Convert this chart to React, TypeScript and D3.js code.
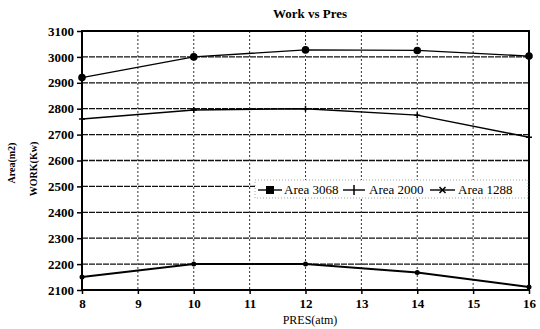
import React, { useRef, useEffect } from "react";
import * as d3 from "d3";

const pres = [8, 10, 12, 14, 16];
const area3068 = [2920, 3000, 3027, 3025, 3003];
const area2000 = [2760, 2795, 2800, 2775, 2690];
const area1288 = [2150, 2200, 2200, 2168, 2112];
const xTicks = [8, 9, 10, 11, 12, 13, 14, 15, 16];
const yTicks = [2100, 2200, 2300, 2400, 2500, 2600, 2700, 2800, 2900, 3000, 3100];
const seriesNames = ["Area 3068", "Area 2000", "Area 1288"];

const W = 540;
const H = 329;
const margin = { top: 31, right: 11, bottom: 39, left: 82 };
const font = "Liberation Serif";

export default function App() {
  const ref = useRef<SVGSVGElement>(null);

  useEffect(() => {
    const svg = d3.select(ref.current);
    svg.selectAll("*").remove();

    const x = d3.scaleLinear().domain([8, 16]).range([margin.left, W - margin.right]);
    const y = d3.scaleLinear().domain([2100, 3100]).range([H - margin.bottom, margin.top]);

    svg.append("rect").attr("width", W).attr("height", H).attr("fill", "#fff");

    // grid
    svg
      .append("g")
      .selectAll("line")
      .data(xTicks.slice(1, -1))
      .join("line")
      .attr("x1", (d) => x(d))
      .attr("x2", (d) => x(d))
      .attr("y1", y(3100))
      .attr("y2", y(2100))
      .attr("stroke", "#333")
      .attr("stroke-width", 1)
      .attr("stroke-dasharray", "2,2");

    svg
      .append("g")
      .selectAll("line")
      .data(yTicks.slice(1, -1))
      .join("line")
      .attr("x1", x(8))
      .attr("x2", x(16))
      .attr("y1", (d) => y(d))
      .attr("y2", (d) => y(d))
      .attr("stroke", "#111")
      .attr("stroke-width", 1.3)
      .attr("stroke-dasharray", "6,1");

    // frame
    svg
      .append("rect")
      .attr("x", x(8))
      .attr("y", y(3100))
      .attr("width", x(16) - x(8))
      .attr("height", y(2100) - y(3100))
      .attr("fill", "none")
      .attr("stroke", "#000")
      .attr("stroke-width", 2);

    // axes
    const yAxis = d3
      .axisLeft(y)
      .tickValues(yTicks)
      .tickSize(5)
      .tickFormat((d) => String(d));
    const gy = svg.append("g").attr("transform", `translate(${x(8)},0)`).call(yAxis);
    gy.attr("font-family", null).attr("font-size", null);
    gy.select(".domain").remove();
    gy.selectAll("line").attr("stroke", "#000").attr("stroke-width", 1.5);
    gy.selectAll("text")
      .style("font-family", font)
      .attr("font-weight", "bold")
      .attr("font-size", 13)
      .attr("fill", "#000")
      .attr("x", -8);

    const xAxis = d3
      .axisBottom(x)
      .tickValues(xTicks)
      .tickSize(4)
      .tickFormat((d) => String(d));
    const gx = svg.append("g").attr("transform", `translate(0,${y(2100)})`).call(xAxis);
    gx.attr("font-family", null).attr("font-size", null);
    gx.select(".domain").remove();
    gx.selectAll("line").attr("stroke", "#000").attr("stroke-width", 1.5);
    gx.selectAll("text")
      .style("font-family", font)
      .attr("font-weight", "bold")
      .attr("font-size", 13)
      .attr("fill", "#000")
      .attr("dy", "0.85em");

    // lines
    const line = d3
      .line<number>()
      .x((_, i) => x(pres[i]))
      .y((d) => y(d));

    const allSeries = [area3068, area2000, area1288];
    allSeries.forEach((vals, si) => {
      svg
        .append("path")
        .datum(vals)
        .attr("d", line)
        .attr("fill", "none")
        .attr("stroke", "#000")
        .attr("stroke-width", si === 2 ? 2 : 1.4);
    });

    // markers
    svg
      .append("g")
      .selectAll("circle")
      .data(area3068)
      .join("circle")
      .attr("cx", (_, i) => x(pres[i]))
      .attr("cy", (d) => y(d))
      .attr("r", 3.8)
      .attr("fill", "#000");

    svg
      .append("g")
      .selectAll("path")
      .data(area2000)
      .join("path")
      .attr("d", (d, i) => {
        const cx = x(pres[i]);
        const cy = y(d);
        return `M${cx - 3},${cy}H${cx + 3}M${cx},${cy - 3}V${cy + 3}`;
      })
      .attr("stroke", "#000")
      .attr("stroke-width", 1.5);

    svg
      .append("g")
      .selectAll("circle")
      .data(area1288)
      .join("circle")
      .attr("cx", (_, i) => x(pres[i]))
      .attr("cy", (d) => y(d))
      .attr("r", 2.5)
      .attr("fill", "#000");

    // legend
    const ly = 190;
    svg
      .append("rect")
      .attr("x", 255)
      .attr("y", 180)
      .attr("width", x(16) - 255 - 1)
      .attr("height", 18)
      .attr("fill", "#fff")
      .attr("stroke", "#666")
      .attr("stroke-width", 0.6)
      .attr("stroke-dasharray", "1,2");

    const lg = svg.append("g");
    const items = [
      { x0: 258, x1: 282, tx: 284 },
      { x0: 343, x1: 365, tx: 369 },
      { x0: 430, x1: 455, tx: 458 },
    ];
    items.forEach((it, i) => {
      lg.append("line")
        .attr("x1", it.x0)
        .attr("x2", it.x1)
        .attr("y1", ly)
        .attr("y2", ly)
        .attr("stroke", "#000")
        .attr("stroke-width", 1.4);
      const cx = (it.x0 + it.x1) / 2;
      if (i === 0) {
        lg.append("rect")
          .attr("x", cx - 4)
          .attr("y", ly - 4)
          .attr("width", 8)
          .attr("height", 8)
          .attr("fill", "#000");
      } else if (i === 1) {
        lg.append("path")
          .attr("d", `M${cx},${ly - 5}V${ly + 5}`)
          .attr("stroke", "#000")
          .attr("stroke-width", 1.5);
      } else {
        lg.append("path")
          .attr("d", `M${cx - 3},${ly - 3}L${cx + 3},${ly + 3}M${cx - 3},${ly + 3}L${cx + 3},${ly - 3}`)
          .attr("stroke", "#000")
          .attr("stroke-width", 1.5);
      }
      lg.append("text")
        .attr("x", it.tx)
        .attr("y", ly + 4)
        .style("font-family", font)
        .attr("font-size", 13)
        .text(seriesNames[i]);
    });

    // title and labels
    svg
      .append("text")
      .attr("x", 310)
      .attr("y", 18)
      .attr("text-anchor", "middle")
      .style("font-family", font)
      .attr("font-weight", "bold")
      .attr("font-size", 13)
      .text("Work vs Pres");

    svg
      .append("text")
      .attr("x", 310)
      .attr("y", 324)
      .attr("text-anchor", "middle")
      .style("font-family", font)
      .attr("font-size", 12)
      .text("PRES(atm)");

    svg
      .append("text")
      .attr("transform", "translate(15,163) rotate(-90)")
      .attr("text-anchor", "middle")
      .style("font-family", font)
      .attr("font-weight", "bold")
      .attr("font-size", 10)
      .text("Area(m2)");

    svg
      .append("text")
      .attr("transform", "translate(37,169) rotate(-90)")
      .attr("text-anchor", "middle")
      .style("font-family", font)
      .attr("font-weight", "bold")
      .attr("font-size", 10)
      .text("WORK(Kw)");
  }, []);

  return (
    <div style={{ position: "absolute", left: 0, top: 0 }}>
      <svg ref={ref} width={W} height={H} style={{ display: "block" }} />
    </div>
  );
}
